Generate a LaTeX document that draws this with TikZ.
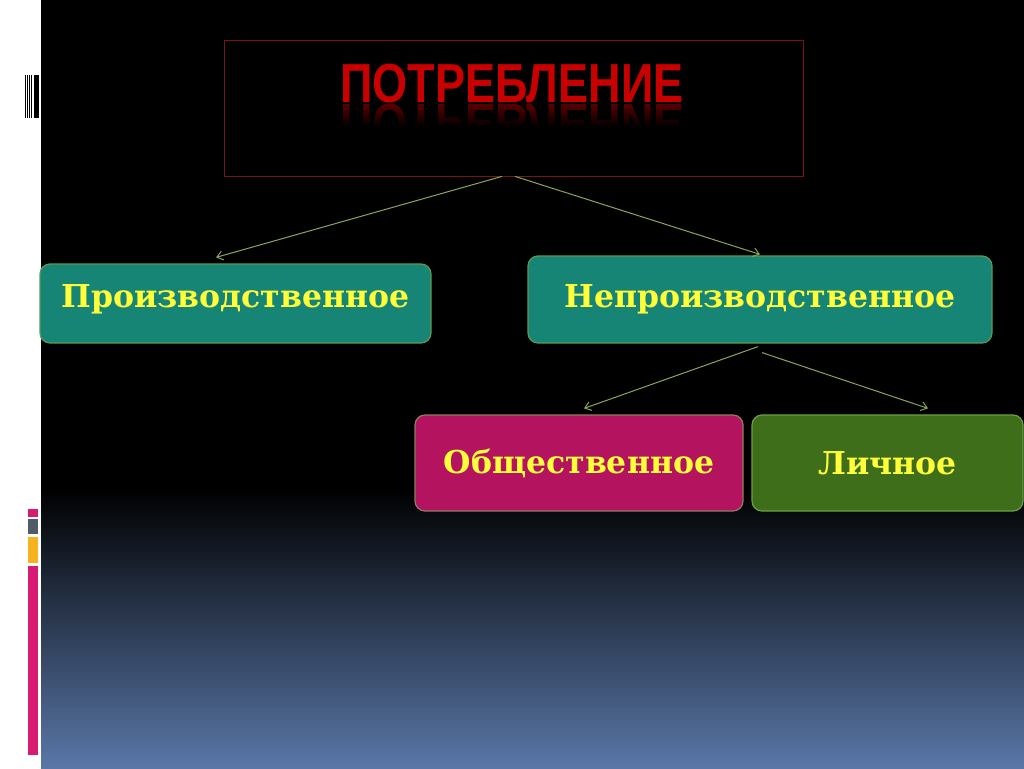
\documentclass[tikz,border=0pt]{standalone}
\usepackage{fontspec}
\setmainfont{DejaVu Serif}
\newfontfamily\titlefont{Liberation Sans}
\usetikzlibrary{arrows.meta,fadings}
\definecolor{tealfill}{HTML}{168576}
\definecolor{tealline}{HTML}{5C9A50}
\definecolor{magfill}{HTML}{B3135F}
\definecolor{magline}{HTML}{8E8060}
\definecolor{grnfill}{HTML}{3F6E1B}
\definecolor{grnline}{HTML}{6DA044}
\definecolor{txtyel}{HTML}{FFFF3A}
\definecolor{arrcol}{HTML}{8AA656}
\definecolor{titred}{HTML}{C80000}
\definecolor{titline}{HTML}{7A1515}
\definecolor{bgblue}{HTML}{5A77A8}
\definecolor{stpink}{HTML}{D81B72}
\definecolor{stgray}{HTML}{4F5B66}
\definecolor{styel}{HTML}{F5B320}
\tikzset{
  catbox/.style={draw, line width=1.2pt, rounded corners=10pt, inner sep=0pt,
    font=\fontsize{31.5}{31.5}\selectfont\bfseries, text=txtyel},
  arr/.style={draw=arrcol, line width=1pt, -{Straight Barb[length=6pt,width=9pt]}},
}
\begin{document}
\begin{tikzpicture}[x=1pt,y=-1pt]
\useasboundingbox (0,0) rectangle (1024,768);
% background
\fill[white] (0,0) rectangle (41,768);
\fill[black] (41,0) rectangle (1024,490);
\shade[top color=black, bottom color=bgblue] (41,489) rectangle (1024,768);
% barcode
\foreach \a/\b in {24.8/26.2, 27/28.3, 29.2/30.2, 30.9/32.4, 34/39.4}
  \fill[black] (\a,75) rectangle (\b,118);
% stripes
\fill[stpink] (28,509) rectangle (38,517);
\fill[stgray] (28,519) rectangle (38,534);
\fill[styel] (28,537) rectangle (38,563);
\fill[stpink] (28,566) rectangle (38,755);
% title
\node[draw=titline, line width=0.8pt, fill=black, minimum width=579pt, minimum height=136pt, inner sep=0pt] (title) at (513.5,108) {};
\node[anchor=base, text=titred!75!black, font=\titlefont\bfseries\fontsize{55}{55}\selectfont, xscale=0.82, yscale=-1, inner sep=0pt, text opacity=0.6] (titlerefl) at (512,104) {ПОТРЕБЛЕНИЕ};
\fill[black, path fading=north] (300,103.5) rectangle (720,127);
\fill[black] (300,126.5) rectangle (720,150);
\node[anchor=base, text=titred, font=\titlefont\bfseries\fontsize{55}{55}\selectfont, xscale=0.82, inner sep=0pt] (titletext) at (512,102) {ПОТРЕБЛЕНИЕ};
% boxes
\node[catbox, fill=tealfill, draw=tealline, minimum width=391pt, minimum height=79pt, text depth=14pt] (pro) at (235.5,303.5) {Производственное};
\node[catbox, fill=tealfill, draw=tealline, minimum width=464pt, minimum height=87pt] (nonpro) at (760,299.5) {Непроизводственное};
\node[catbox, fill=magfill, draw=magline, minimum width=328pt, minimum height=96pt] (obs) at (579,463) {Общественное};
\node[catbox, fill=grnfill, draw=grnline, minimum width=271pt, minimum height=96pt] (lich) at (887.5,463) {Личное};
% connectors
\draw[arr] ([xshift=-11.5pt]title.south) -- ([xshift=-19.5pt,yshift=6pt]pro.north);
\draw[arr] ([xshift=1.5pt]title.south) -- ([yshift=1pt]nonpro.north);
\draw[arr] ([xshift=-2pt,yshift=-3pt]nonpro.south) -- ([xshift=5pt,yshift=6pt]obs.north);
\draw[arr] ([xshift=2pt,yshift=-9pt]nonpro.south) -- ([xshift=40.5pt,yshift=6pt]lich.north);
\end{tikzpicture}
\end{document}
